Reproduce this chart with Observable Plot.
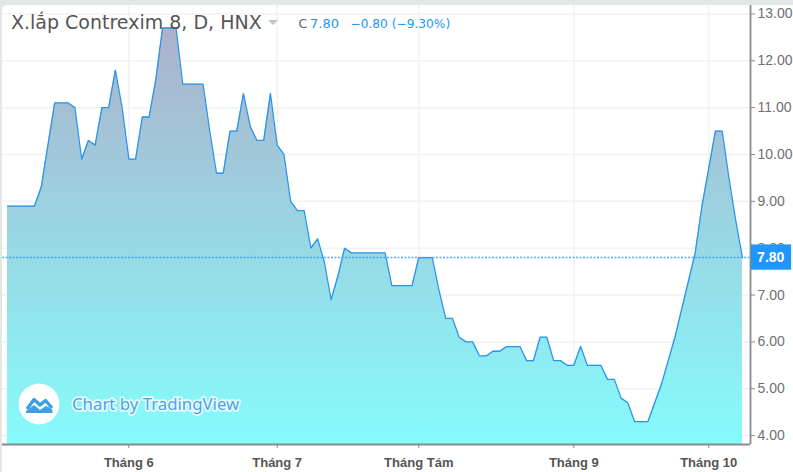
<!DOCTYPE html>
<html>
<head>
<meta charset="utf-8">
<script src="https://cdn.jsdelivr.net/npm/d3@7"></script>
<script src="https://cdn.jsdelivr.net/npm/@observablehq/plot@0.6"></script>
<style>
html,body{margin:0;padding:0;background:#e4e7e8;}
#chart{position:relative;width:793px;height:472px;overflow:hidden;}
#chart svg{display:block;}
</style>
</head>
<body>
<div id="chart"></div>
<script>
const closes = [8.9,8.9,8.9,8.9,8.9,9.3,10.2,11.1,11.1,11.1,11.0,9.9,10.3,10.2,11.0,11.0,11.8,11.0,9.9,9.9,10.8,10.8,11.6,12.7,12.7,12.7,11.5,11.5,11.5,11.5,10.5,9.6,9.6,10.5,10.5,11.3,10.6,10.3,10.3,11.3,10.2,10.0,9.0,8.8,8.8,8.0,8.2,7.7,6.9,7.4,8.0,7.9,7.9,7.9,7.9,7.9,7.9,7.2,7.2,7.2,7.2,7.8,7.8,7.8,7.1,6.5,6.5,6.1,6.0,6.0,5.7,5.7,5.8,5.8,5.9,5.9,5.9,5.6,5.6,6.1,6.1,5.6,5.6,5.5,5.5,5.9,5.5,5.5,5.5,5.2,5.2,4.8,4.7,4.3,4.3,4.3,4.7,5.1,5.6,6.1,6.7,7.3,7.9,8.9,9.7,10.5,10.5,9.5,8.6,7.8];
const monthTicks = [18,40,61,84,104];
const monthLabels = ["Tháng 6","Tháng 7","Tháng Tám","Tháng 9","Tháng 10"];
const priceTicks = [4,5,6,7,8,9,10,11,12,13];
const lastPrice = 7.80;
const titleText = "X.lắp Contrexim 8, D, HNX";
const legendC = "C";
const legendClose = "7.80";
const legendChange = "−0.80 (−9.30%)";
const brandText = "Chart by TradingView";

const rows = closes.map((c,i)=>({i,c}));
const blue = "#2196f3";
const xDomain = [-0.74,110.2];
const yDomain = [3.81,13.18];

const gradient = () => {
  const defs = d3.create("svg:defs");
  const g = defs.append("linearGradient").attr("id","fillGrad").attr("gradientUnits","userSpaceOnUse")
    .attr("x1",0).attr("x2",0).attr("y1",28).attr("y2",444);
  g.append("stop").attr("offset","0").attr("stop-color","#a9aec9");
  g.append("stop").attr("offset","1").attr("stop-color","#80fbfb");
  return defs.node();
};
const background = () => {
  const r = d3.create("svg:rect").attr("x",2).attr("y",5).attr("width",800).attr("height",480).attr("rx",5).attr("fill","#fff");
  return r.node();
};
const caret = () => d3.create("svg:path").attr("d","M268,20 L278,20 L273,25 Z").attr("fill","#c4c4c4").node();
const logo = () => {
  const g = d3.create("svg:g").attr("transform","translate(39,404)");
  g.append("circle").attr("r",20.4).attr("fill","#fff");
  g.append("path").attr("fill","none").attr("stroke","#3f9fe6").attr("stroke-width",3.4).attr("stroke-linejoin","round")
    .attr("d","M-12,5 L-5,-4.5 L1,1 L6.5,-3.5 L13,4");
  g.append("path").attr("fill","#3f9fe6")
    .attr("d","M-13,9 L-13,7 L-5,1 L1,6 L7,2 L11,4 Q14,5 13.5,9 Z");
  return g.node();
};

const chart = Plot.plot({
  width:793, height:472,
  marginLeft:2, marginRight:43, marginTop:5, marginBottom:28,
  style:{background:"transparent",overflow:"visible"},
  x:{type:"linear",domain:xDomain, axis:null},
  y:{type:"linear",domain:yDomain, axis:null},
  marks:[
    background,
    gradient,
    Plot.ruleY(priceTicks,{y:d=>d,stroke:"#eef3f7",strokeWidth:1.5}),
    Plot.ruleX(monthTicks,{x:d=>d,stroke:"#eef3f7",strokeWidth:1.5}),
    Plot.areaY(rows,{x:"i",y1:yDomain[0],y2:"c",fill:"url(#fillGrad)",fillOpacity:0.96}),
    Plot.lineY(rows,{x:"i",y:"c",stroke:"#2a94e8",strokeWidth:1.3,curve:"linear"}),
    Plot.ruleY([lastPrice],{stroke:"#3aa0f5",strokeWidth:1.4,strokeDasharray:"2 1.5",strokeOpacity:0.85}),
    Plot.ruleX([xDomain[1]],{stroke:"#8a8a8a",strokeWidth:1.8}),
    Plot.ruleY([yDomain[0]],{stroke:"#8a8a8a",strokeWidth:1.8}),
    Plot.axisY(priceTicks,{anchor:"right",tickSize:4,tickPadding:3,tickFormat:d=>d.toFixed(2),label:null,fontSize:14,fill:"#6f6f6f",stroke:"#8a8a8a",fontFamily:"Liberation Sans"}),
    Plot.axisX(monthTicks,{anchor:"bottom",tickSize:4,tickPadding:9,tickFormat:d=>monthLabels[monthTicks.indexOf(d)],label:null,fontSize:13,fontWeight:"bold",fill:"#555",stroke:"#8a8a8a",fontFamily:"Liberation Sans"}),
    Plot.rect([lastPrice],{x1:xDomain[1]+0.15,x2:116.3,y1:lastPrice-0.27,y2:lastPrice+0.27,fill:"#1e96fb"}),
    Plot.text([lastPrice],{x:113.2,y:lastPrice,text:d=>d.toFixed(2),fill:"#fff",fontWeight:"bold",fontSize:14,fontFamily:"Liberation Sans"}),
    Plot.text([titleText],{frameAnchor:"top-left",dx:8.5,dy:10,lineAnchor:"top",text:d=>d,fontSize:19,fill:"#555",fontFamily:"DejaVu Sans",textAnchor:"start"}),
    caret,
    Plot.text([legendC],{frameAnchor:"top-left",dx:296,dy:14,lineAnchor:"top",text:d=>d,fontSize:12.5,fill:"#666",fontFamily:"DejaVu Sans",textAnchor:"start"}),
    Plot.text([legendClose],{frameAnchor:"top-left",dx:307.5,dy:13.5,lineAnchor:"top",text:d=>d,fontSize:13,fill:blue,fontFamily:"DejaVu Sans",textAnchor:"start"}),
    Plot.text([legendChange],{frameAnchor:"top-left",dx:348,dy:13.5,lineAnchor:"top",text:d=>d,fontSize:12.2,fill:blue,fontFamily:"DejaVu Sans",textAnchor:"start"}),
    logo,
    Plot.text([brandText],{frameAnchor:"top-left",dx:69.5,dy:393,lineAnchor:"top",text:d=>d,fontSize:16.8,fill:"#4ba3e6",stroke:"#fff",strokeWidth:3.5,strokeOpacity:0.8,fontFamily:"Noto Sans",textAnchor:"start"})
  ]
});
document.getElementById("chart").appendChild(chart);
</script>
</body>
</html>
